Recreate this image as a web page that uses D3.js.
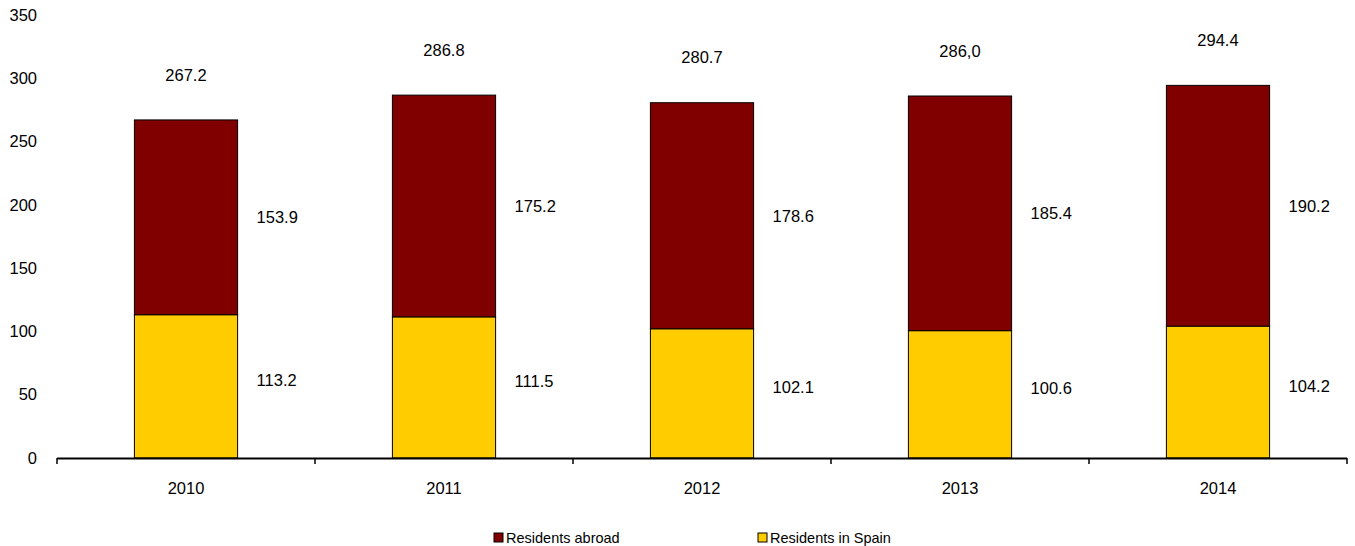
<!DOCTYPE html>
<html><head><meta charset="utf-8">
<script src="https://cdn.jsdelivr.net/npm/d3@7"></script>
<style>body{margin:0;background:#fff}text{font-family:Arial,"Liberation Sans",sans-serif}</style>
</head><body><svg id="c" width="1355" height="546"></svg>
<script>
const years = ["2010","2011","2012","2013","2014"];
const residentsSpain = [113.2,111.5,102.1,100.6,104.2];
const residentsAbroad = [153.9,175.2,178.6,185.4,190.2];
const totalLabels = ["267.2","286.8","280.7","286,0","294.4"];
const spainLabels = ["113.2","111.5","102.1","100.6","104.2"];
const abroadLabels = ["153.9","175.2","178.6","185.4","190.2"];
const yTicks = [0,50,100,150,200,250,300,350];
const seriesNames = ["Residents abroad","Residents in Spain"];
const colors = ["#800000","#FFCC00"];

const svg = d3.select("#c");
const x = d3.scaleBand().domain(years).range([57,1347]).paddingInner(0.6).paddingOuter(0.3);
const y = d3.scaleLinear().domain([0,350]).range([458,15]);

// y labels
svg.append("g").selectAll("text").data(yTicks).join("text")
  .attr("x",37).attr("y",d=>y(d)).attr("dy","0.35em").attr("text-anchor","end")
  .attr("font-size",16.5).attr("fill","#000").text(d=>d);

// bars
years.forEach((yr,i)=>{
  const s = residentsSpain[i], a = residentsAbroad[i];
  svg.append("rect").attr("x",x(yr)).attr("width",x.bandwidth())
    .attr("y",y(s)).attr("height",y(0)-y(s))
    .attr("fill",colors[1]).attr("stroke","#000").attr("stroke-width",1);
  svg.append("rect").attr("x",x(yr)).attr("width",x.bandwidth())
    .attr("y",y(s+a)).attr("height",y(s)-y(s+a))
    .attr("fill",colors[0]).attr("stroke","#000").attr("stroke-width",1);
  const cx = x(yr)+x.bandwidth()/2;
  const rx = x(yr)+x.bandwidth()+19;
  svg.append("text").attr("x",cx).attr("y",y(s+a)-45).attr("dy","0.35em")
    .attr("text-anchor","middle").attr("font-size",16.5).text(totalLabels[i]);
  svg.append("text").attr("x",rx).attr("y",y(s+a/2)).attr("dy","0.35em")
    .attr("font-size",16.5).text(abroadLabels[i]);
  svg.append("text").attr("x",rx).attr("y",y(s/2)-6).attr("dy","0.35em")
    .attr("font-size",16.5).text(spainLabels[i]);
});

// x axis
const xr = x.range();
svg.append("line").attr("x1",xr[0]).attr("x2",xr[1]).attr("y1",y(0)+0.5).attr("y2",y(0)+0.5)
  .attr("stroke","#000").attr("stroke-width",2);
const step = x.step();
d3.range(years.length+1).forEach(k=>{
  const px = xr[0]+k*step;
  svg.append("line").attr("x1",px).attr("x2",px).attr("y1",y(0)).attr("y2",y(0)+6)
    .attr("stroke","#000").attr("stroke-width",1.5);
});
svg.append("g").selectAll("text").data(years).join("text")
  .attr("x",d=>x(d)+x.bandwidth()/2).attr("y",488).attr("dy","0.35em")
  .attr("text-anchor","middle").attr("font-size",16.5).text(d=>d);

// legend
const legX = [494,758];
seriesNames.forEach((n,i)=>{
  svg.append("rect").attr("x",legX[i]).attr("y",533).attr("width",9).attr("height",9)
    .attr("fill",colors[i]).attr("stroke","#000").attr("stroke-width",1);
  svg.append("text").attr("x",legX[i]+12).attr("y",538).attr("dy","0.35em")
    .attr("font-size",14.5).text(n);
});
</script></body></html>
